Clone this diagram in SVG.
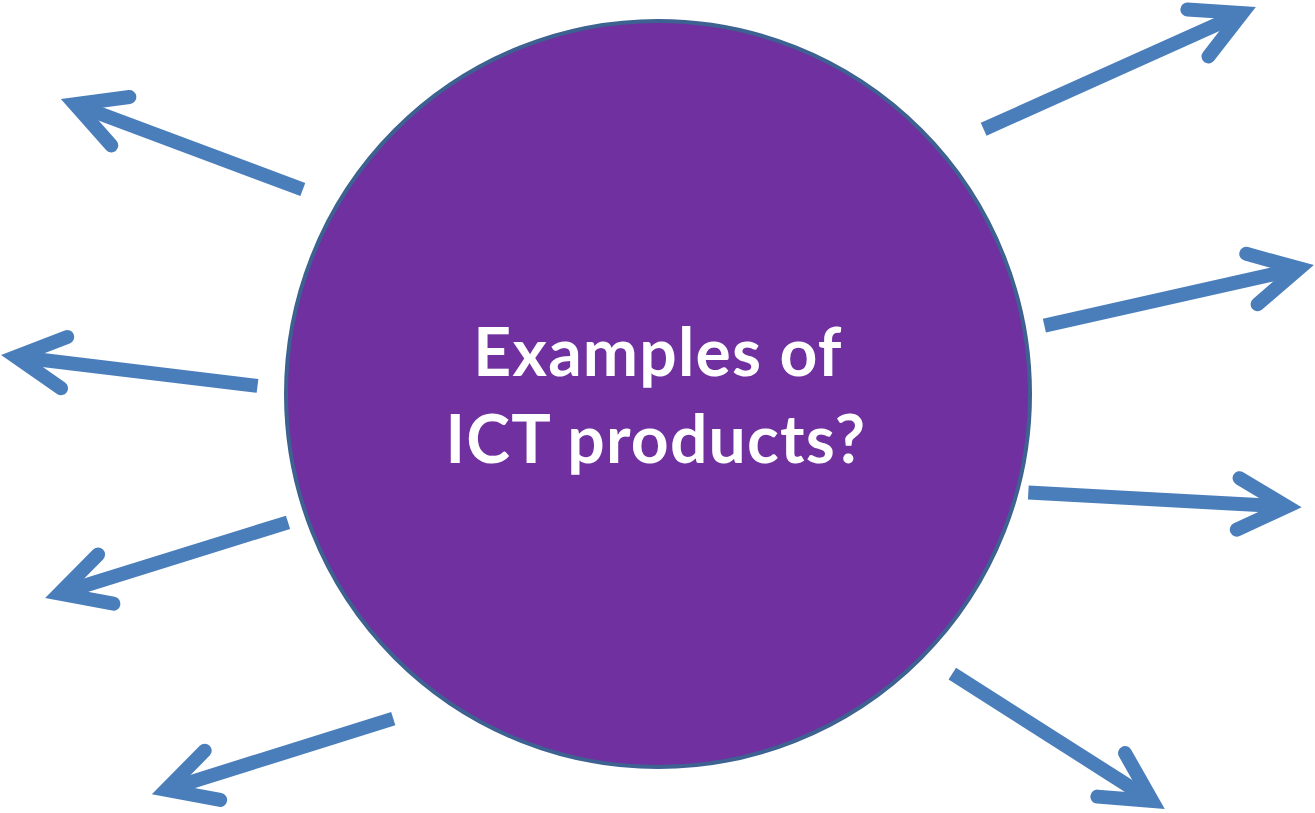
<svg xmlns="http://www.w3.org/2000/svg" xmlns:xlink="http://www.w3.org/1999/xlink" width="1315" height="813" viewBox="0 0 1315 813">
  <style>
    .shaft { stroke: #4A7EBB; stroke-width: 14; stroke-linecap: butt; fill: none; }
    .head { stroke: #4A7EBB; stroke-width: 14; stroke-linecap: round; stroke-linejoin: miter; stroke-miterlimit: 10; fill: none; }
    .label { font-family: Lato, "Open Sans", "Liberation Sans", sans-serif; font-weight: bold; font-size: 66px; letter-spacing: 1.2px; fill: #FFFFFF; text-anchor: middle; }
  </style>
  <defs>
    <polyline id="arrowhead" class="head" points="-62.6,-25.8 -14,0 -62.6,25.8"/>
  </defs>
  <rect width="1315" height="813" fill="#FFFFFF"/>
  <g id="center-node">
    <ellipse cx="658" cy="394" rx="372" ry="373" fill="#7030A0" stroke="#3D6190" stroke-width="4"/>
    <text class="label" x="658" y="376">Examples of</text>
    <text class="label" x="656" y="463">ICT products?</text>
  </g>
  <g id="connectors">
    <g transform="translate(61.7,99.3) rotate(200.5)"><line class="shaft" x1="-257.4" y1="0" x2="-14" y2="0"/><use xlink:href="#arrowhead"/></g>
    <g transform="translate(1255,7.3) rotate(-24.2)"><line class="shaft" x1="-297.5" y1="0" x2="-14" y2="0"/><use xlink:href="#arrowhead"/></g>
    <g transform="translate(1313,265.3) rotate(-12.66)"><line class="shaft" x1="-275.3" y1="0" x2="-14" y2="0"/><use xlink:href="#arrowhead"/></g>
    <g transform="translate(1300.7,507.3) rotate(3.1)"><line class="shaft" x1="-272.8" y1="0" x2="-14" y2="0"/><use xlink:href="#arrowhead"/></g>
    <g transform="translate(1164,808.5) rotate(32.5)"><line class="shaft" x1="-251" y1="0" x2="-14" y2="0"/><use xlink:href="#arrowhead"/></g>
    <g transform="translate(2,355) rotate(186.9)"><line class="shaft" x1="-257.4" y1="0" x2="-14" y2="0"/><use xlink:href="#arrowhead"/></g>
    <g transform="translate(46,597.7) rotate(162.7)"><line class="shaft" x1="-253.5" y1="0" x2="-14" y2="0"/><use xlink:href="#arrowhead"/></g>
    <g transform="translate(152.7,794) rotate(162.6)"><line class="shaft" x1="-252.1" y1="0" x2="-14" y2="0"/><use xlink:href="#arrowhead"/></g>
  </g>
</svg>
